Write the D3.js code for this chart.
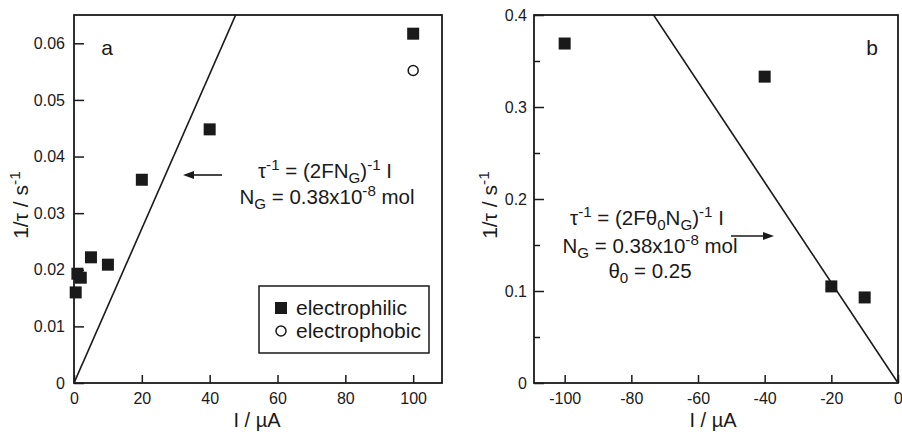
<!DOCTYPE html>
<html><head><meta charset="utf-8">
<script src="https://cdn.jsdelivr.net/npm/d3@7"></script>
<style>
html,body{margin:0;padding:0;background:#fff;}
svg{display:block;font-family:"Liberation Sans",Arial,Helvetica,sans-serif;}
</style></head>
<body>
<svg id="c" width="902" height="432"></svg>
<script>
// ---- data ----
const aElectrophilicI = [0.5, 1, 2, 5, 10, 20, 40, 100];
const aElectrophilicRate = [0.016, 0.0193, 0.0186, 0.0222, 0.0209, 0.0359, 0.0448, 0.0617];
const aElectrophobicI = [100];
const aElectrophobicRate = [0.0552];
const bI = [-100, -40, -20, -10];
const bRate = [0.369, 0.333, 0.105, 0.093];
const aXTicks = [0, 20, 40, 60, 80, 100];
const aYTicks = [0, 0.01, 0.02, 0.03, 0.04, 0.05, 0.06];
const bXTicks = [-100, -80, -60, -40, -20, 0];
const bYTicks = [0, 0.1, 0.2, 0.3, 0.4];
const bYMinor = [0.05, 0.15, 0.25, 0.35];
const F = 96485, NG = 0.38e-8, theta0 = 0.25;
const slopeA = 1e-6 / (2 * F * NG);          // s^-1 per µA
const slopeB = -1e-6 / (2 * F * theta0 * NG);

const svg = d3.select("#c");
const ink = "#1a1a1a";
const FONT_T = 16, FONT_L = 21, FONT_EQ = 20.5, FONT_AX = 20;

function rich(g, x, y, segs, size, anchor, rotate) {
  const t = g.append("text").attr("x", x).attr("y", y)
    .attr("font-size", size).attr("fill", ink).attr("text-anchor", anchor || "start");
  if (rotate) t.attr("transform", `rotate(${rotate},${x},${y})`);
  let cur = 0;
  segs.forEach(s => {
    const fs = s.k ? size * 0.74 : size;
    const shift = s.k === "sup" ? -0.4 * size : s.k === "sub" ? 0.26 * size : 0;
    t.append("tspan").attr("font-size", fs).attr("dy", shift - cur).text(s.t);
    cur = shift;
  });
  return t;
}

function panel(opts) {
  const {x0, x1, y0, y1, xDom, yDom, xTicks, yTicks, yMinor, yFmt, yPad} = opts;
  const x = d3.scaleLinear().domain(xDom).range([x0, x1]);
  const y = d3.scaleLinear().domain(yDom).range([y1, y0]);
  const g = svg.append("g");
  const id = "clip" + x0;
  svg.append("clipPath").attr("id", id).append("rect")
    .attr("x", x0).attr("y", y0).attr("width", x1 - x0).attr("height", y1 - y0);

  g.append("g").attr("transform", `translate(0,${y1})`)
    .call(d3.axisBottom(x).tickValues(xTicks).tickSize(-8).tickPadding(10).tickFormat(d => String(d)));
  g.append("g").attr("transform", `translate(${x0},0)`)
    .call(d3.axisLeft(y).tickValues(yTicks).tickSize(-10).tickPadding(yPad).tickFormat(yFmt));
  if (yMinor) g.append("g").attr("transform", `translate(${x0},0)`)
    .call(d3.axisLeft(y).tickValues(yMinor).tickSize(-6).tickFormat(""));
  g.selectAll(".domain").remove();
  g.selectAll(".tick line").attr("stroke", ink).attr("stroke-width", 1.5);
  g.selectAll(".tick text").attr("font-size", FONT_T).attr("fill", ink)
    .attr("font-family", "Liberation Sans, Arial, sans-serif");
  g.append("rect").attr("x", x0).attr("y", y0).attr("width", x1 - x0).attr("height", y1 - y0)
    .attr("fill", "none").attr("stroke", ink).attr("stroke-width", 1.8);
  return {x, y, g, clip: `url(#${id})`};
}

// ---- panel a ----
const A = panel({x0: 74, x1: 442, y0: 15, y1: 383, xDom: [0, 108.5], yDom: [0, 0.065],
  xTicks: aXTicks, yTicks: aYTicks, yFmt: d => d === 0 ? "0" : d3.format(".2f")(d), yPad: 9});
A.g.append("path").attr("clip-path", A.clip)
  .attr("d", d3.line().x(d => A.x(d)).y(d => A.y(slopeA * d))([0, 108.5]))
  .attr("stroke", ink).attr("stroke-width", 1.6).attr("fill", "none");
A.g.selectAll("rect.sq").data(aElectrophilicI.map((d, i) => [d, aElectrophilicRate[i]])).enter()
  .append("rect").attr("class", "sq")
  .attr("x", d => A.x(d[0]) - 6).attr("y", d => A.y(d[1]) - 6)
  .attr("width", 12).attr("height", 12).attr("fill", ink);
A.g.selectAll("circle.op").data(aElectrophobicI.map((d, i) => [d, aElectrophobicRate[i]])).enter()
  .append("circle").attr("cx", d => A.x(d[0])).attr("cy", d => A.y(d[1])).attr("r", 5)
  .attr("fill", "#fff").attr("stroke", ink).attr("stroke-width", 1.5);
rich(A.g, 107, 55, [{t: "a"}], FONT_L, "middle");
rich(A.g, 325, 178, [{t: "τ"}, {t: "-1", k: "sup"}, {t: " = (2FN"}, {t: "G", k: "sub"}, {t: ")"}, {t: "-1", k: "sup"}, {t: " I"}], FONT_EQ, "middle");
rich(A.g, 327, 204, [{t: "N"}, {t: "G", k: "sub"}, {t: " = 0.38x10"}, {t: "-8", k: "sup"}, {t: " mol"}], FONT_EQ, "middle");
A.g.append("line").attr("x1", 222).attr("x2", 192).attr("y1", 175).attr("y2", 175)
  .attr("stroke", ink).attr("stroke-width", 1.6);
A.g.append("path").attr("d", "M183,175 L194,171 L194,179 Z").attr("fill", ink);
// legend
A.g.append("rect").attr("x", 259).attr("y", 286).attr("width", 170).attr("height", 67)
  .attr("fill", "#fff").attr("stroke", ink).attr("stroke-width", 1.5);
A.g.append("rect").attr("x", 275).attr("y", 302).attr("width", 12).attr("height", 12).attr("fill", ink);
A.g.append("circle").attr("cx", 281).attr("cy", 331).attr("r", 5)
  .attr("fill", "#fff").attr("stroke", ink).attr("stroke-width", 1.5);
rich(A.g, 296, 315, [{t: "electrophilic"}], FONT_L, "start");
rich(A.g, 296, 338, [{t: "electrophobic"}], FONT_L, "start");
rich(A.g, 257, 427, [{t: "I / µA"}], FONT_AX, "middle");
rich(A.g, 28, 205, [{t: "1/τ / s"}, {t: "-1", k: "sup"}], FONT_L, "middle", -90);

// ---- panel b ----
const B = panel({x0: 534, x1: 898, y0: 15, y1: 383, xDom: [-109.2, 0], yDom: [0, 0.4],
  xTicks: bXTicks, yTicks: bYTicks, yMinor: bYMinor, yFmt: d => d === 0 ? "0" : d3.format(".1f")(d), yPad: 7});
B.g.append("path").attr("clip-path", B.clip)
  .attr("d", d3.line().x(d => B.x(d)).y(d => B.y(slopeB * d))([-109.2, 0]))
  .attr("stroke", ink).attr("stroke-width", 1.6).attr("fill", "none");
B.g.selectAll("rect.sq").data(bI.map((d, i) => [d, bRate[i]])).enter()
  .append("rect").attr("class", "sq")
  .attr("x", d => B.x(d[0]) - 6).attr("y", d => B.y(d[1]) - 6)
  .attr("width", 12).attr("height", 12).attr("fill", ink);
rich(B.g, 872, 55, [{t: "b"}], FONT_L, "middle");
rich(B.g, 647, 225, [{t: "τ"}, {t: "-1", k: "sup"}, {t: " = (2Fθ"}, {t: "0", k: "sub"}, {t: "N"}, {t: "G", k: "sub"}, {t: ")"}, {t: "-1", k: "sup"}, {t: " I"}], FONT_EQ, "middle");
rich(B.g, 650, 253, [{t: "N"}, {t: "G", k: "sub"}, {t: " = 0.38x10"}, {t: "-8", k: "sup"}, {t: " mol"}], FONT_EQ, "middle");
rich(B.g, 650, 278, [{t: "θ"}, {t: "0", k: "sub"}, {t: " = 0.25"}], FONT_EQ, "middle");
B.g.append("line").attr("x1", 731).attr("x2", 765).attr("y1", 236).attr("y2", 236)
  .attr("stroke", ink).attr("stroke-width", 1.6);
B.g.append("path").attr("d", "M774,236 L763,232 L763,240 Z").attr("fill", ink);
rich(B.g, 713, 427, [{t: "I / µA"}], FONT_AX, "middle");
rich(B.g, 497, 205, [{t: "1/τ / s"}, {t: "-1", k: "sup"}], FONT_L, "middle", -90);
</script>
</body></html>
